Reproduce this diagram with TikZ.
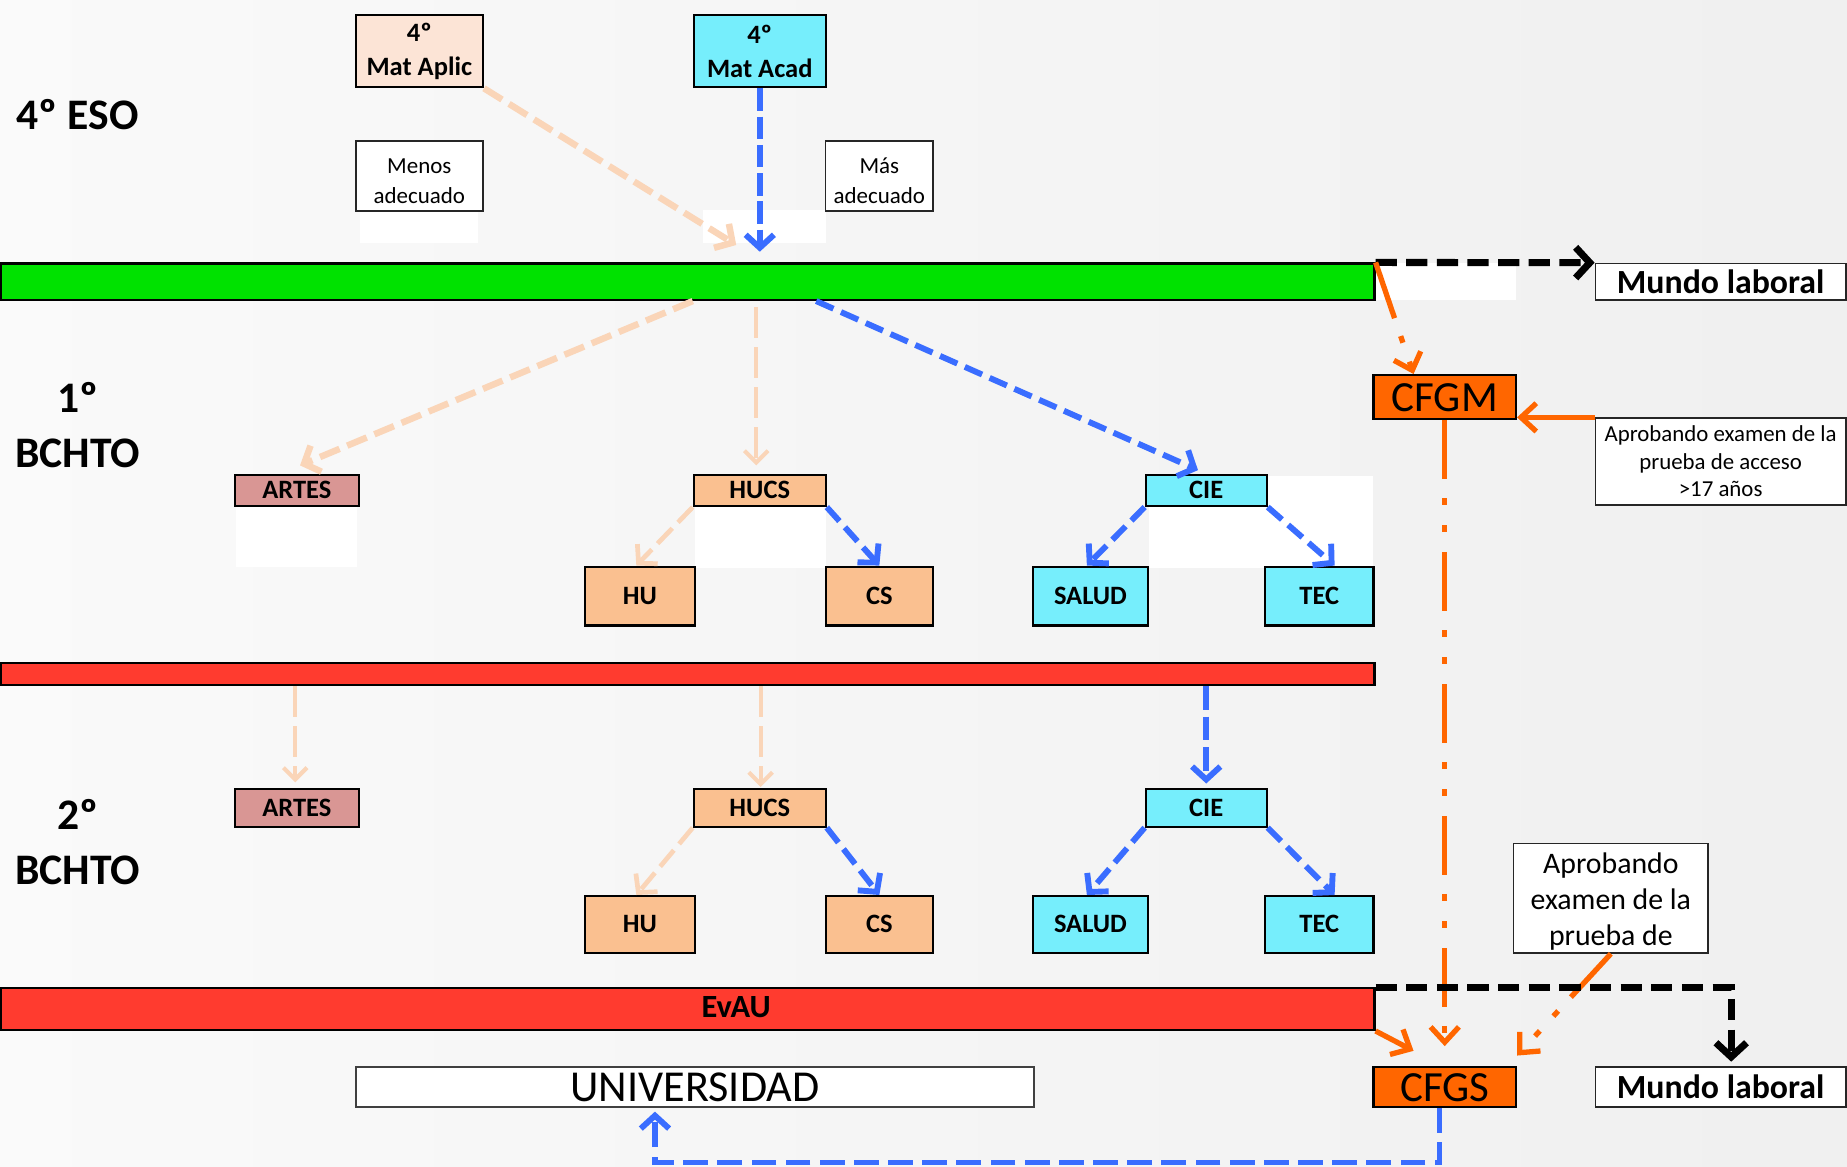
\documentclass[tikz,border=0pt]{standalone}
\usepackage{fontspec}
\setmainfont{Carlito}
\usetikzlibrary{arrows.meta}

\definecolor{verdebarra}{HTML}{00E200}
\definecolor{rojobarra}{HTML}{FF3B2F}
\definecolor{naranjacf}{HTML}{FF6600}
\definecolor{ciancaja}{HTML}{76EEFC}
\definecolor{rosacaja}{HTML}{D99694}
\definecolor{melocaja}{HTML}{FAC090}
\definecolor{cremacaja}{HTML}{FCE4D6}
\definecolor{azulflecha}{HTML}{3A6DFF}
\definecolor{salmonflecha}{HTML}{FAD5B8}

\begin{document}
\begin{tikzpicture}[x=1pt, y=-1pt,
    caja/.style={draw=black, line width=1.8pt, inner sep=0pt, align=center},
    fina/.style={draw=black!85, line width=1.4pt, inner sep=0pt, align=center, fill=white},
    barra/.style={draw=black, line width=1.8pt, inner sep=0pt, anchor=west, minimum width=1166pt},
    rotulo/.style={font=\fontsize{22.5}{28.6}\selectfont\bfseries},
    curso/.style={align=center, font=\fontsize{37}{46.7}\selectfont\bfseries},
    azul/.style={draw=azulflecha, line width=5pt, dash pattern=on 16pt off 7pt, -{Straight Barb[length=11pt,width=24pt]}},
    salmon/.style={draw=salmonflecha, line width=5.5pt, dash pattern=on 18pt off 7pt, -{Straight Barb[length=11pt,width=24pt]}},
    salmonfino/.style={salmon, line width=3.5pt, dash pattern=on 26pt off 8pt, -{Straight Barb[length=10pt,width=20pt]}},
    naranja/.style={draw=naranjacf, line width=4.5pt, -{Straight Barb[length=13pt,width=24pt]}},
    rayapunto/.style={naranja, dash pattern=on 50pt off 16pt on 6pt off 17pt on 6pt off 17pt},
    negra/.style={draw=black, line width=6pt, dash pattern=on 18pt off 8pt, -{Straight Barb[length=12pt,width=26pt]}}]

\fill[left color=black!2, right color=black!6] (0,0) rectangle (1568,990.7);
\useasboundingbox (0,0) rectangle (1568,990.7);
\foreach \a/\b/\c/\d in {306/178/406/206, 597/178/701/206, 1166/223/1287/255, 200/430/303/481, 590/430/701/482, 975/404/1166/482}
    \fill[white] (\a,\b) rectangle (\c,\d);

\node[curso] (eso) at (66,97.6) {4º ESO};
\node[caja, rotulo, fill=cremacaja, minimum width=108pt, minimum height=61.4pt] (aplic) at (356,43.4) {4º\\Mat Aplic};
\node[caja, rotulo, fill=ciancaja, minimum width=112pt, minimum height=61.4pt] (acad) at (645,43.4) {4º\\Mat Acad};
\node[fina, minimum width=108pt, minimum height=59.5pt, text height=47pt, font=\fontsize{19.5}{25}\selectfont] (menos) at (356,149.2) {Menos\\adecuado};
\node[fina, minimum width=91.6pt, minimum height=59.5pt, text height=47pt, font=\fontsize{19.5}{25}\selectfont] (mas) at (746.5,149.2) {Más\\adecuado};

\node[barra, fill=verdebarra, minimum height=31pt] (eso4) at (0,239.2) {};
\node[barra, fill=rojobarra, minimum height=19pt] (rojo) at (0,572) {};
\node[barra, fill=rojobarra, minimum height=35.5pt] (evau) at (0,856.6) {};
\node[font=\fontsize{27.5}{30}\selectfont\bfseries] (evautxt) at (625,855) {EvAU};

\node[fina, minimum width=212.6pt, minimum height=31pt, font=\fontsize{28.7}{34}\selectfont\bfseries] (mundo1) at (1460.7,239.2) {Mundo laboral};
\node[caja, fill=naranjacf, minimum width=121pt, minimum height=37.6pt, font=\fontsize{36.5}{40}\selectfont] (cfgm) at (1226.5,337.2) {CFGM};
\node[fina, minimum width=212.6pt, minimum height=73.6pt, font=\fontsize{19.4}{23.4}\selectfont] (aprob1) at (1460.7,391.8) {Aprobando examen de la\\prueba de acceso\\>17 años};

\foreach \n/\ya/\ha/\yb/\hb/\yc in {1/416.3/26.6/506/50/361, 2/685.9/31.7/784.7/48/715} {
    \node[curso] (bach\n) at (66,\yc) {\n{}º\\BCHTO};
    \node[caja, rotulo, fill=rosacaja, minimum width=105pt, minimum height=\ha pt] (artes\n) at (252,\ya) {ARTES};
    \node[caja, rotulo, fill=melocaja, minimum width=112pt, minimum height=\ha pt] (hucs\n) at (645,\ya) {HUCS};
    \node[caja, rotulo, fill=ciancaja, minimum width=102.7pt, minimum height=\ha pt] (cie\n) at (1024,\ya) {CIE};
    \node[caja, rotulo, fill=melocaja, minimum width=93.5pt, minimum height=\hb pt] (hu\n) at (543.2,\yb) {HU};
    \node[caja, rotulo, fill=melocaja, minimum width=91pt, minimum height=\hb pt] (cs\n) at (746.5,\yb) {CS};
    \node[caja, rotulo, fill=ciancaja, minimum width=98.2pt, minimum height=\hb pt] (salud\n) at (925.7,\yb) {SALUD};
    \node[caja, rotulo, fill=ciancaja, minimum width=92pt, minimum height=\hb pt] (tec\n) at (1120,\yb) {TEC};
    \draw[salmon, line width=4pt] (hucs\n.south west) -- ([xshift=-3pt]hu\n.north);
    \draw[azul] (hucs\n.south east) -- (cs\n.north);
    \draw[azul] (cie\n.south west) -- ([xshift=-3pt]salud\n.north);
    \draw[azul] (cie\n.south east) -- ([xshift=13pt]tec\n.north);
}

\node[fina, draw=black!75, minimum width=576pt, minimum height=34pt, font=\fontsize{37.5}{40}\selectfont] (univ) at (590,923) {UNIVERSIDAD};
\node[caja, fill=naranjacf, minimum width=121pt, minimum height=34pt, font=\fontsize{36.5}{40}\selectfont] (cfgs) at (1226.5,923) {CFGS};
\node[fina, minimum width=212.6pt, minimum height=34pt, font=\fontsize{28.7}{34}\selectfont\bfseries] (mundo2) at (1460.7,923) {Mundo laboral};
\node[fina, minimum width=165pt, minimum height=93pt, text height=85pt, font=\fontsize{25.3}{30.8}\selectfont] (aprob2) at (1367.5,762.5) {Aprobando\\examen de la\\prueba de};

\coordinate (llegaP) at (625,208);
\coordinate (llegaA) at (645,213.7);
\draw[salmon] (aplic.south east) -- (llegaP);
\draw[azul, dash pattern=on 19pt off 5pt] (acad.south) -- (llegaA);

\draw[salmon] (hucs1.west |- eso4.south) -- ([xshift=2.7pt,yshift=7pt]artes1.north);
\draw[salmonfino, shorten <=5pt] ([xshift=-3pt]hucs1.north |- eso4.south) -- ([xshift=-3pt,yshift=7pt]hucs1.north);
\draw[azul] ([xshift=-9pt]hucs1.east |- eso4.south) -- ([xshift=-7pt,yshift=3pt]cie1.north);
\draw[salmonfino] ([xshift=-1.4pt]artes2.north |- rojo.south) -- ([xshift=-1.4pt,yshift=5pt]artes2.north);
\draw[salmonfino] ([xshift=0.7pt]hucs2.north |- rojo.south) -- ([xshift=0.7pt,yshift=1pt]hucs2.north);
\draw[azul, dash pattern=on 20pt off 6pt] (cie2.north |- rojo.south) -- ([yshift=4pt]cie2.north);

\draw[negra] (eso4.north east) -- (mundo1.north west);
\draw[rayapunto] (eso4.north east) -- ([xshift=-26.5pt]cfgm.north);
\draw[naranja] (aprob1.north west) -- (aprob1.north west -| cfgm.east);
\draw[rayapunto] (cfgm.south) -- ([yshift=17pt]cfgs.north);
\draw[rayapunto] (aprob2.south) -- ([yshift=9pt]cfgs.north east);
\draw[naranja] (evau.south east) -- ([xshift=-26.5pt,yshift=13pt]cfgs.north);
\draw[negra] (evau.north east) -| ([xshift=9pt,yshift=4pt]mundo2.north);
\draw[azul, dash pattern=on 21pt off 8pt] ([xshift=-4.5pt]cfgs.south) -- ++(0,46) -| ([xshift=-34pt,yshift=-3pt]univ.south);
\end{tikzpicture}
\end{document}
